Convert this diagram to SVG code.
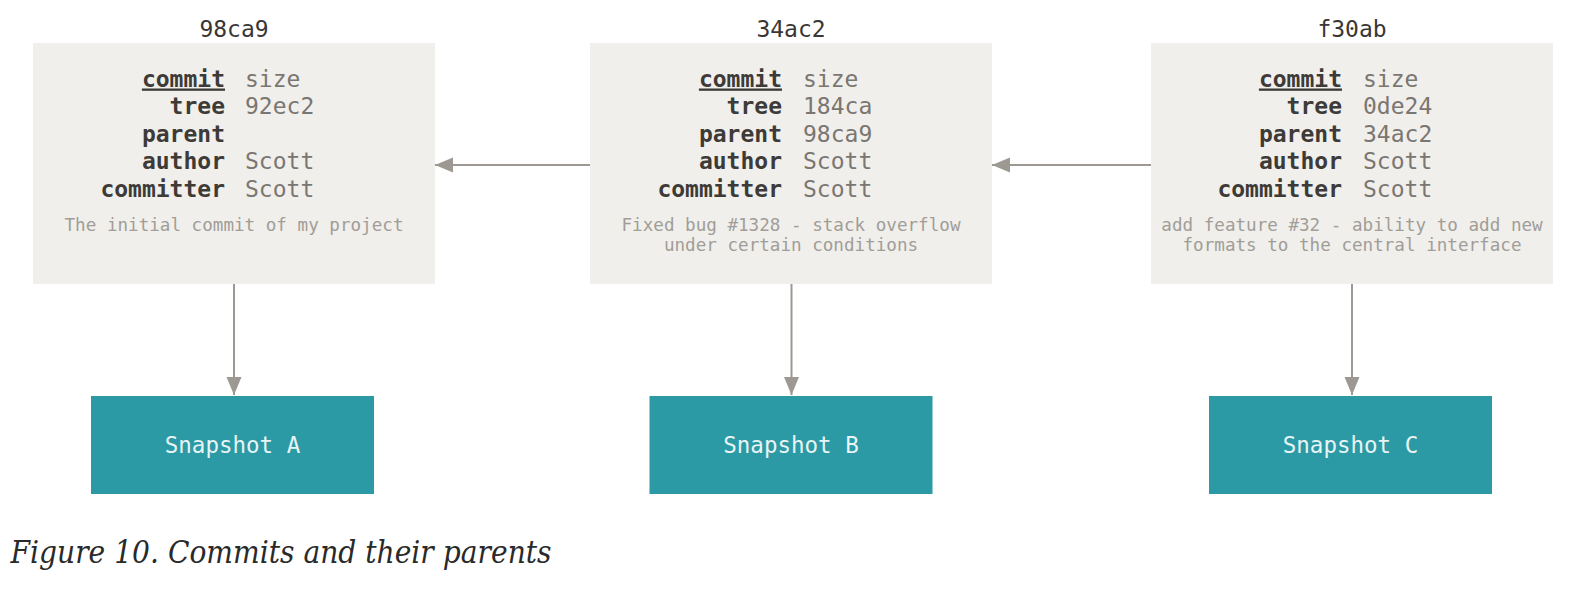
<svg xmlns="http://www.w3.org/2000/svg" width="1594" height="604" viewBox="0 0 1594 604">
<style>
.box{fill:#f0efeb}
.snap{fill:#2b9aa5}
.title{font-family:"DejaVu Sans Mono","Liberation Mono",monospace;font-size:23px;fill:#3a3734;text-anchor:middle}
.lbl{font-family:"DejaVu Sans Mono","Liberation Mono",monospace;font-size:23px;font-weight:bold;fill:#3d3a37;text-anchor:end}
.val{font-family:"DejaVu Sans Mono","Liberation Mono",monospace;font-size:23px;fill:#7a7671}
.msg{font-family:"DejaVu Sans Mono","Liberation Mono",monospace;font-size:17.6px;fill:#a19d98;text-anchor:middle}
.stxt{font-family:"DejaVu Sans Mono","Liberation Mono",monospace;font-size:22.5px;fill:#e8f4f5;text-anchor:middle}
.conn{stroke:#9d9992;stroke-width:2;fill:none}
.cap{font-family:"DejaVu Serif","Liberation Serif",serif;font-style:italic;font-size:32px;fill:#2a2a2a}
</style>
<defs>
<marker id="ah" markerUnits="userSpaceOnUse" markerWidth="18" markerHeight="16" refX="18" refY="7.5" orient="auto">
<path d="M0,0 L18,7.5 L0,15 z" fill="#9d9992"/>
</marker>
</defs>

<g id="commit-98ca9">
<text class="title" x="234" y="36.5">98ca9</text>
<rect class="box" x="33" y="43" width="402" height="241"/>
<text class="lbl" x="225" y="86.5" text-decoration="underline">commit</text>
<text class="val" x="245" y="86.5">size</text>
<text class="lbl" x="225" y="114">tree</text>
<text class="val" x="245" y="114">92ec2</text>
<text class="lbl" x="225" y="141.5">parent</text>
<text class="lbl" x="225" y="169">author</text>
<text class="val" x="245" y="169">Scott</text>
<text class="lbl" x="225" y="196.5">committer</text>
<text class="val" x="245" y="196.5">Scott</text>
<text class="msg" x="234" y="230.5">The initial commit of my project</text>
</g>

<g id="commit-34ac2">
<text class="title" x="791" y="36.5">34ac2</text>
<rect class="box" x="590" y="43" width="402" height="241"/>
<text class="lbl" x="782" y="86.5" text-decoration="underline">commit</text>
<text class="val" x="803" y="86.5">size</text>
<text class="lbl" x="782" y="114">tree</text>
<text class="val" x="803" y="114">184ca</text>
<text class="lbl" x="782" y="141.5">parent</text>
<text class="val" x="803" y="141.5">98ca9</text>
<text class="lbl" x="782" y="169">author</text>
<text class="val" x="803" y="169">Scott</text>
<text class="lbl" x="782" y="196.5">committer</text>
<text class="val" x="803" y="196.5">Scott</text>
<text class="msg" x="791" y="230.5">Fixed bug #1328 - stack overflow</text>
<text class="msg" x="791" y="250.5">under certain conditions</text>
</g>

<g id="commit-f30ab">
<text class="title" x="1352" y="36.5">f30ab</text>
<rect class="box" x="1151" y="43" width="402" height="241"/>
<text class="lbl" x="1342" y="86.5" text-decoration="underline">commit</text>
<text class="val" x="1363" y="86.5">size</text>
<text class="lbl" x="1342" y="114">tree</text>
<text class="val" x="1363" y="114">0de24</text>
<text class="lbl" x="1342" y="141.5">parent</text>
<text class="val" x="1363" y="141.5">34ac2</text>
<text class="lbl" x="1342" y="169">author</text>
<text class="val" x="1363" y="169">Scott</text>
<text class="lbl" x="1342" y="196.5">committer</text>
<text class="val" x="1363" y="196.5">Scott</text>
<text class="msg" x="1352" y="230.5">add feature #32 - ability to add new</text>
<text class="msg" x="1352" y="250.5">formats to the central interface</text>
</g>

<g id="snapshot-a">
<rect class="snap" x="91" y="396" width="283" height="98"/>
<text class="stxt" x="232.5" y="453">Snapshot A</text>
</g>
<g id="snapshot-b">
<rect class="snap" x="649.5" y="396" width="283" height="98"/>
<text class="stxt" x="791" y="453">Snapshot B</text>
</g>
<g id="snapshot-c">
<rect class="snap" x="1209" y="396" width="283" height="98"/>
<text class="stxt" x="1350.5" y="453">Snapshot C</text>
</g>

<g id="connectors">
<line class="conn" x1="590" y1="165" x2="435" y2="165" marker-end="url(#ah)"/>
<line class="conn" x1="1151" y1="165" x2="992" y2="165" marker-end="url(#ah)"/>
<line class="conn" x1="234" y1="284" x2="234" y2="395" marker-end="url(#ah)"/>
<line class="conn" x1="791.5" y1="284" x2="791.5" y2="395" marker-end="url(#ah)"/>
<line class="conn" x1="1352" y1="284" x2="1352" y2="395" marker-end="url(#ah)"/>
</g>

<text class="cap" x="10.5" y="563.3" textLength="541" lengthAdjust="spacingAndGlyphs">Figure 10. Commits and their parents</text>
</svg>
